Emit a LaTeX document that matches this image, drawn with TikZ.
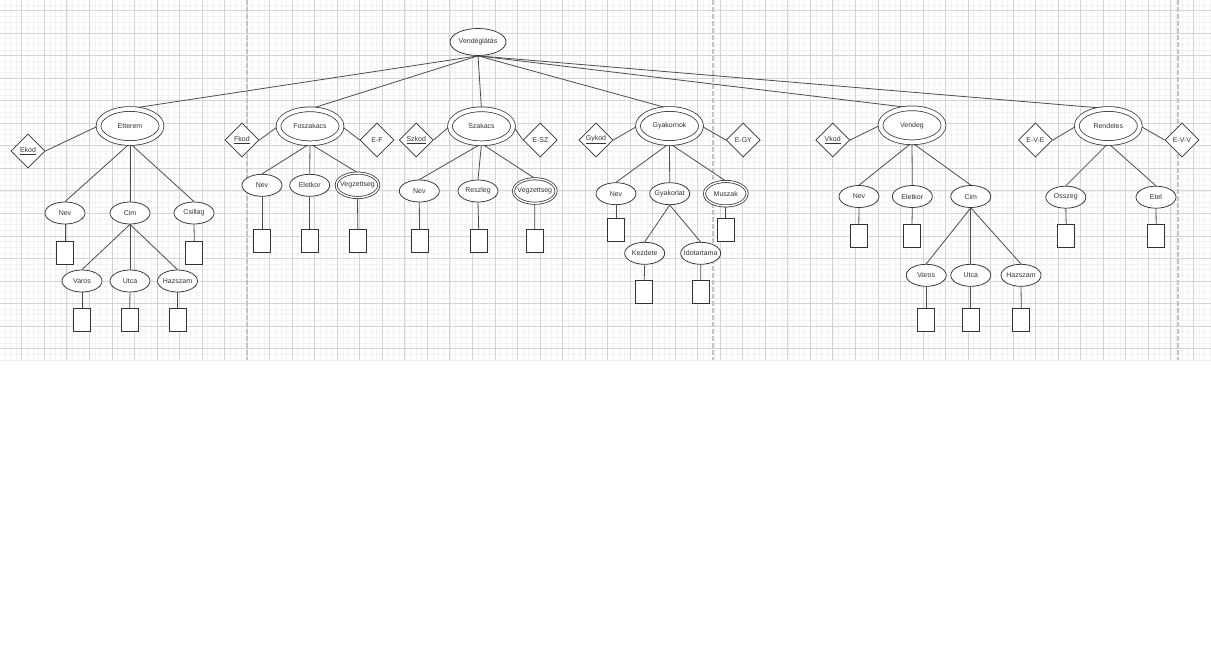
\documentclass[tikz,border=0pt]{standalone}
\usepackage{fontspec}
\setmainfont{Liberation Sans}
\usetikzlibrary{shapes.geometric}
\definecolor{txt}{HTML}{333333}
\definecolor{edge}{HTML}{4D4D4D}
\definecolor{gmaj}{HTML}{D4D4D4}
\definecolor{gmin}{HTML}{F2F2F2}
\definecolor{pg}{HTML}{C4C4C4}
\definecolor{shp}{HTML}{333333}
\newcommand{\zb}[1]{\makebox[0pt]{#1}}
\pgfdeclarelayer{background}
\pgfsetlayers{background,main}
\begin{document}
\begin{tikzpicture}[x=1pt,y=-1pt,
  every node/.style={font=\fontsize{7}{8}\selectfont, text=txt},
  attr/.style={ellipse, draw=shp, fill=white, line width=0.75pt, minimum width=40pt, minimum height=22pt, inner sep=0pt},
  dattr/.style={attr, double, double distance=1.4pt, minimum width=42.5pt, minimum height=24.5pt},
  ent/.style={attr, double, double distance=4pt, minimum width=63pt, minimum height=34pt},
  top/.style={attr, minimum width=56pt, minimum height=27pt},
  rel/.style={diamond, draw=shp, fill=white, line width=0.75pt, minimum width=34pt, minimum height=34pt, inner sep=0pt},
  valbox/.style={rectangle, draw=shp, fill=white, line width=0.85pt, minimum width=17pt, minimum height=23pt, inner sep=0pt},
  conn/.style={draw=edge, line width=0.8pt},
  gridmin/.style={draw=gmin, line width=0.4pt},
  gridmaj/.style={draw=gmaj, line width=0.6pt},
  pagebreak/.style={draw=pg, line width=1.2pt, dash pattern=on 5pt off 2pt},
]
\useasboundingbox (0,0) rectangle (1211,648);

% root
\node[top] (v) at (478,42) {\zb{Vendéglátás}};

% Etterem
\node[ent] (etterem) at (130,126) {\zb{Etterem}};
\node[rel] (ekod) at (28,151) {\underline{Ekod}};
\node[attr] (nev1) at (65,213) {\zb{Nev}};
\node[attr] (cim1) at (130,213) {\zb{Cim}};
\node[attr] (csillag) at (194,213) {\zb{Csillag}};
\node[valbox] (bnev1) at (65,252.7) {};
\node[valbox] (bcsillag) at (194.3,252.7) {};
\node[attr] (varos1) at (82,281) {\zb{Varos}};
\node[attr] (utca1) at (130,281) {\zb{Utca}};
\node[attr] (hazszam1) at (177.5,281) {\zb{Hazszam}};
\node[valbox] (bvaros1) at (82,320) {};
\node[valbox] (butca1) at (129.7,320) {};
\node[valbox] (bhazszam1) at (177.5,320) {};

% Foszakacs
\node[ent] (fosz) at (310,126.3) {\zb{Foszakacs}};
\node[rel] (fkod) at (242,140) {\underline{Fkod}};
\node[rel] (ef) at (377,140) {E-F};
\node[attr] (nev2) at (262,185.3) {\zb{Nev}};
\node[attr] (eletkor2) at (309.7,185.3) {\zb{Eletkor}};
\node[dattr] (vegz2) at (357.5,185.3) {\zb{Vegzettseg}};
\node[valbox] (bnev2) at (262,241.3) {};
\node[valbox] (beletkor2) at (309.7,241.3) {};
\node[valbox] (bvegz2) at (357.8,241.3) {};

% Szakacs
\node[ent] (szak) at (481.5,126.3) {\zb{Szakacs}};
\node[rel] (szkod) at (416.3,140) {\underline{Szkod}};
\node[rel] (esz) at (540.3,140) {E-SZ};
\node[attr] (nev3) at (419.3,191) {\zb{Nev}};
\node[attr] (reszleg) at (478,191) {\zb{Reszleg}};
\node[dattr] (vegz3) at (534.8,191) {\zb{Vegzettseg}};
\node[valbox] (bnev3) at (419.5,241.3) {};
\node[valbox] (breszleg) at (478.7,241.3) {};
\node[valbox] (bvegz3) at (534.7,241.3) {};

% Gyakornok
\node[ent] (gyak) at (669.5,126) {\zb{Gyakornok}};
\node[rel] (gykod) at (596,140) {\underline{Gykod}};
\node[rel] (egy) at (743.3,140) {E-GY};
\node[attr] (nev4) at (616,193.7) {\zb{Nev}};
\node[attr] (gyakorlat) at (669.7,193.7) {\zb{Gyakorlat}};
\node[dattr] (muszak) at (725.8,193.7) {\zb{Muszak}};
\node[valbox] (bnev4) at (616,229.7) {};
\node[valbox] (bmuszak) at (725.8,229.7) {};
\node[attr] (kezdete) at (644.7,253.3) {\zb{Kezdete}};
\node[attr] (idotartama) at (700.7,253.3) {\zb{Idotartama}};
\node[valbox] (bkezdete) at (644.2,292) {};
\node[valbox] (bidotartama) at (700.8,292) {};

% Vendeg
\node[ent] (vendeg) at (912,125.3) {\zb{Vendeg}};
\node[rel] (vkod) at (832.7,140) {\underline{Vkod}};
\node[attr] (nev5) at (859,196.5) {\zb{Nev}};
\node[attr] (eletkor5) at (912.3,196.5) {\zb{Eletkor}};
\node[attr] (cim5) at (970.8,196.5) {\zb{Cim}};
\node[valbox] (bnev5) at (858.8,235.8) {};
\node[valbox] (beletkor5) at (912,235.8) {};
\node[attr] (varos5) at (926.2,275.3) {\zb{Varos}};
\node[attr] (utca5) at (970.8,275.3) {\zb{Utca}};
\node[attr] (hazszam5) at (1021,275.3) {\zb{Hazszam}};
\node[valbox] (bvaros5) at (926.2,320) {};
\node[valbox] (butca5) at (970.8,320) {};
\node[valbox] (bhazszam5) at (1021.3,320) {};

% Rendeles
\node[ent] (rend) at (1108.3,126) {\zb{Rendeles}};
\node[rel] (eve) at (1035.5,140) {E-V-E};
\node[rel] (evv) at (1182,140) {E-V-V};
\node[attr] (osszeg) at (1065.8,197.2) {\zb{Osszeg}};
\node[attr] (etel) at (1156,197.2) {\zb{Etel}};
\node[valbox] (bosszeg) at (1066.2,235.7) {};
\node[valbox] (betel) at (1156.2,235.7) {};

\begin{pgfonlayer}{background}
  \fill[white] (0,0) rectangle (1211,648);
  \foreach \i in {0,...,214} \draw[gridmin] ({4.8+\i*5.6325},0) -- ({4.8+\i*5.6325},360);
  \foreach \j in {0,...,63} \draw[gridmin] (0,{4.87+\j*5.6325}) -- (1211,{4.87+\j*5.6325});
  \foreach \i in {0,...,52} \draw[gridmaj] ({21.7+\i*22.53},0) -- ({21.7+\i*22.53},360);
  \foreach \j in {0,...,15} \draw[gridmaj] (0,{10.5+\j*22.53}) -- (1211,{10.5+\j*22.53});
  \foreach \x in {247,713,1178} \draw[pagebreak] (\x,0) -- (\x,360);

  \foreach \b in {etterem,fosz,szak,gyak,vendeg,rend}
    \draw[conn] (v.south) -- (\b.north);
  \foreach \a/\b in {ekod/etterem,fkod/fosz,fosz/ef,szkod/szak,szak/esz,gykod/gyak,gyak/egy,vkod/vendeg,eve/rend,rend/evv}
    \draw[conn] (\a.east) -- (\b.west);
  \foreach \a/\b in {etterem/nev1,etterem/cim1,etterem/csillag,cim1/varos1,cim1/utca1,cim1/hazszam1,
      nev1/bnev1,csillag/bcsillag,varos1/bvaros1,utca1/butca1,hazszam1/bhazszam1,
      fosz/nev2,fosz/eletkor2,fosz/vegz2,nev2/bnev2,eletkor2/beletkor2,vegz2/bvegz2,
      szak/nev3,szak/reszleg,szak/vegz3,nev3/bnev3,reszleg/breszleg,vegz3/bvegz3,
      gyak/nev4,gyak/gyakorlat,gyak/muszak,nev4/bnev4,muszak/bmuszak,
      gyakorlat/kezdete,gyakorlat/idotartama,kezdete/bkezdete,idotartama/bidotartama,
      vendeg/nev5,vendeg/eletkor5,vendeg/cim5,nev5/bnev5,eletkor5/beletkor5,
      cim5/varos5,cim5/utca5,cim5/hazszam5,varos5/bvaros5,utca5/butca5,hazszam5/bhazszam5,
      rend/osszeg,rend/etel,osszeg/bosszeg,etel/betel}
    \draw[conn] (\a.south) -- (\b.north);
\end{pgfonlayer}
\end{tikzpicture}
\end{document}
